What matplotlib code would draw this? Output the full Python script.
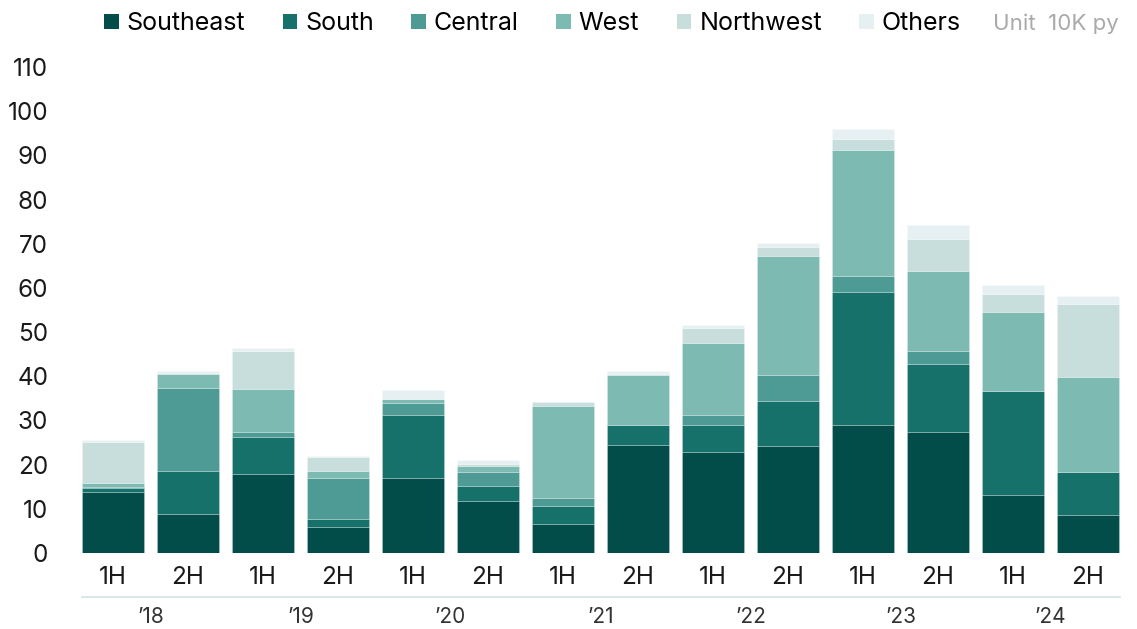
import matplotlib
matplotlib.use("Agg")
import matplotlib.pyplot as plt
from matplotlib.patches import Patch
from matplotlib.lines import Line2D
from matplotlib.transforms import blended_transform_factory
import numpy as np

plt.rcParams['font.family'] = ['Inter', 'DejaVu Sans']

# Half-year periods and regional supply (unit: 10K py)
years = ["\u201918", "\u201919", "\u201920", "\u201921", "\u201922", "\u201923", "\u201924"]
halves = ["1H", "2H"] * len(years)
regions = ["Southeast", "South", "Central", "West", "Northwest", "Others"]

southeast = [13.7, 8.9, 17.8, 5.8, 16.9, 11.7, 6.5, 24.4, 22.9, 24.3, 28.9, 27.5, 13.2, 8.7]
south = [0.9, 9.7, 8.4, 1.9, 14.4, 3.4, 4.2, 4.5, 6.1, 10.2, 30.1, 15.3, 23.5, 9.7]
central = [0.4, 18.8, 1.3, 9.3, 2.7, 3.2, 1.8, 0.0, 2.3, 5.8, 3.8, 3.0, 0.0, 0.0]
west = [0.8, 3.2, 9.6, 1.6, 0.9, 1.5, 20.8, 11.5, 16.3, 26.9, 28.4, 18.0, 17.8, 21.4]
northwest = [9.4, 0.2, 8.7, 3.1, 0.0, 0.4, 0.8, 0.2, 3.4, 2.1, 2.4, 7.3, 4.2, 16.6]
others = [0.4, 0.4, 0.7, 0.3, 2.0, 0.8, 0.0, 0.5, 0.6, 0.9, 2.4, 3.1, 1.9, 1.8]

series = [southeast, south, central, west, northwest, others]
colors = ["#024D4A", "#17716B", "#4E9A95", "#7DBAB1", "#C8DEDC", "#E6F0F2"]

W, H = 1137, 629
fig = plt.figure(figsize=(W / 100, H / 100), dpi=100)
ax_left, ax_right = 81.5 / W, 1119.5 / W
ax_bottom, ax_top = (H - 553) / H, (H - 67) / H
ax = fig.add_axes([ax_left, ax_bottom, ax_right - ax_left, ax_top - ax_bottom])

x = np.arange(len(halves))
bottom = np.zeros(len(halves))
for vals, col, name in zip(series, colors, regions):
    v = np.array(vals)
    ax.bar(x, v, bottom=bottom, width=0.827, color=col, label=name,
           edgecolor=(1, 1, 1, 0.25), linewidth=0.6)
    bottom += v

ax.set_xlim(-0.42, len(halves) - 0.58)
ax.set_ylim(0, 110)
ax.set_yticks(np.arange(0, 111, 10))
ax.tick_params(axis='y', length=0, pad=24, labelsize=17.5, labelcolor="#1A1A1A")
ax.set_xticks(x)
ax.set_xticklabels(halves)
ax.tick_params(axis='x', length=0, pad=9, labelsize=17.5, labelcolor="#1A1A1A")
for s in ax.spines.values():
    s.set_visible(False)

# Separator line between half-year and year labels
sep_y = (H - 597) / H
fig.add_artist(Line2D([ax_left, ax_right], [sep_y, sep_y], color="#D3E3E1", lw=1.2))

# Year labels centered under each pair of half-years
trans = blended_transform_factory(ax.transData, fig.transFigure)
for i, yr in enumerate(years):
    ax.text(2 * i + 0.5, (H - 617) / H, yr, transform=trans, ha='center', va='center',
            fontsize=15, color="#333333")

# Legend across the top
handles = [Patch(facecolor=c, edgecolor='none', label=n) for c, n in zip(colors, regions)]
fig.legend(handles=handles, loc='center left', bbox_to_anchor=(104 / W, (H - 24) / H),
           ncol=6, frameon=False, fontsize=18, handlelength=0.58, handleheight=0.58,
           handletextpad=0.32, columnspacing=1.5, borderaxespad=0, borderpad=0)
fig.text(1119 / W, (H - 24) / H, "Unit  10K py", ha='right', va='center',
         fontsize=16, color="#AAAAAA")

fig.savefig("out.png", dpi=100)
